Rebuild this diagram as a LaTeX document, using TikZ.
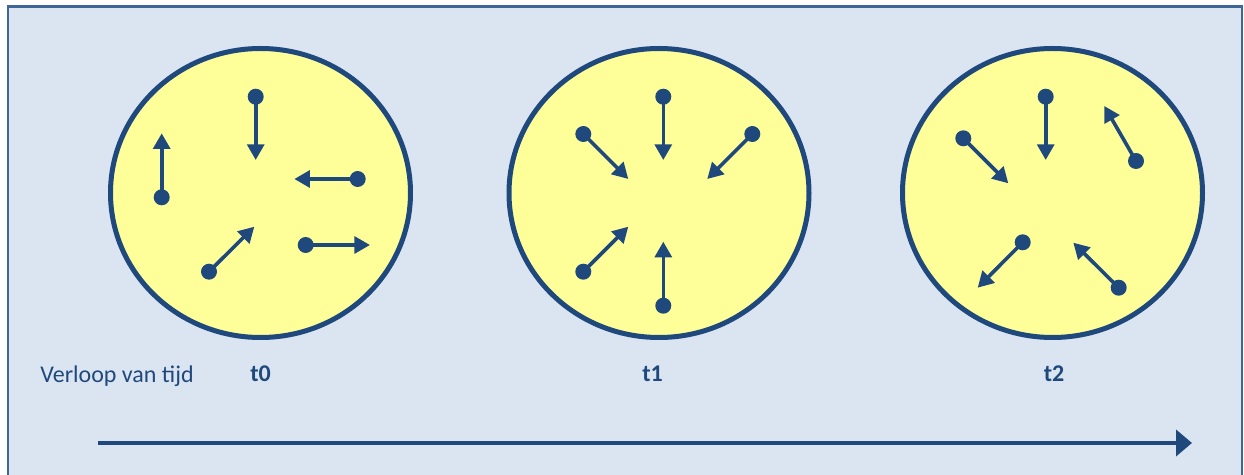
\documentclass[tikz,border=0pt]{standalone}
\usepackage{fontspec}
\setmainfont{Carlito}
\usetikzlibrary{arrows.meta,shapes.geometric}
\definecolor{dkblue}{HTML}{1F497D}
\definecolor{frameblue}{HTML}{3F6796}
\definecolor{bgblue}{HTML}{DBE5F1}
\definecolor{yell}{HTML}{FFFF99}
\tikzset{
  frame/.style={draw=frameblue,line width=1.4pt,fill=bgblue},
  ball/.style={ellipse,draw=dkblue,line width=2.5pt,fill=yell,minimum width=150pt,minimum height=144.5pt,inner sep=0pt},
  dot/.style={circle,fill=dkblue,minimum size=8pt,inner sep=0pt},
  vec/.style={draw=dkblue,line width=1.8pt,-{Triangle[length=7.8pt,width=8.4pt]},shorten <=-1pt},
  timearrow/.style={draw=dkblue,line width=2.2pt,-{Triangle[length=8pt,width=13pt]}},
  lbl/.style={text=dkblue,font=\fontsize{12pt}{14pt}\selectfont,inner sep=0pt},
  tlbl/.style={lbl,font=\fontsize{12pt}{14pt}\selectfont\bfseries,anchor=base}
}
\begin{document}
\begin{tikzpicture}[x=0.5pt,y=-0.5pt]
\clip (0,0) rectangle (1244,475);
\fill[white] (0,0) rectangle (1244,475);
\draw[frame] (8,6.5) rectangle (1242,500);
% circles
\node[ball] (c0) at (260.5,193) {};
\node[ball] (c1) at (659,193) {};
\node[ball] (c2) at (1052.5,193) {};
% circle 0
\node[dot] (a1) at (255.7,96.7) {}; \coordinate (a1t) at (255.7,160);
\node[dot] (a2) at (161.7,197.3) {}; \coordinate (a2t) at (161.7,133.3);
\node[dot] (a3) at (357.7,179) {}; \coordinate (a3t) at (294.3,179);
\node[dot] (a4) at (305.7,245) {}; \coordinate (a4t) at (370,245);
\node[dot] (a5) at (209,271.7) {}; \coordinate (a5t) at (254.3,226.7);
\foreach \i in {1,...,5} \draw[vec] (a\i) -- (a\i t);
% circle 1
\node[dot] (b1) at (663.3,96.7) {}; \coordinate (b1t) at (663.3,160);
\node[dot] (b2) at (583.3,134) {}; \coordinate (b2t) at (628.3,179);
\node[dot] (b3) at (752.3,134) {}; \coordinate (b3t) at (707.3,179);
\node[dot] (b4) at (583.3,271.7) {}; \coordinate (b4t) at (628.3,226.7);
\node[dot] (b5) at (663.3,305.7) {}; \coordinate (b5t) at (663.3,241.7);
\foreach \i in {1,...,5} \draw[vec] (b\i) -- (b\i t);
% circle 2
\node[dot] (d1) at (1045.7,96.7) {}; \coordinate (d1t) at (1045.7,160);
\node[dot] (d2) at (963.3,138.3) {}; \coordinate (d2t) at (1008.3,183.3);
\node[dot] (d3) at (1136,161) {}; \coordinate (d3t) at (1104.3,106);
\node[dot] (d4) at (1022.7,242.3) {}; \coordinate (d4t) at (977.7,287.7);
\node[dot] (d5) at (1118.7,287.7) {}; \coordinate (d5t) at (1073.3,242.7);
\foreach \i in {1,...,5} \draw[vec] (d\i) -- (d\i t);
% labels
\node[lbl,anchor=base west] (verloop) at (40,382.5) {Verloop van tijd};
\node[tlbl] (t0) at (260.5,382) {t0};
\node[tlbl] (t1) at (652.5,382) {t1};
\node[tlbl] (t2) at (1054,382) {t2};
% time arrow
\coordinate (ts) at (98,443);
\coordinate (te) at (1192,443);
\draw[timearrow] (ts) -- (te);
\end{tikzpicture}
\end{document}
